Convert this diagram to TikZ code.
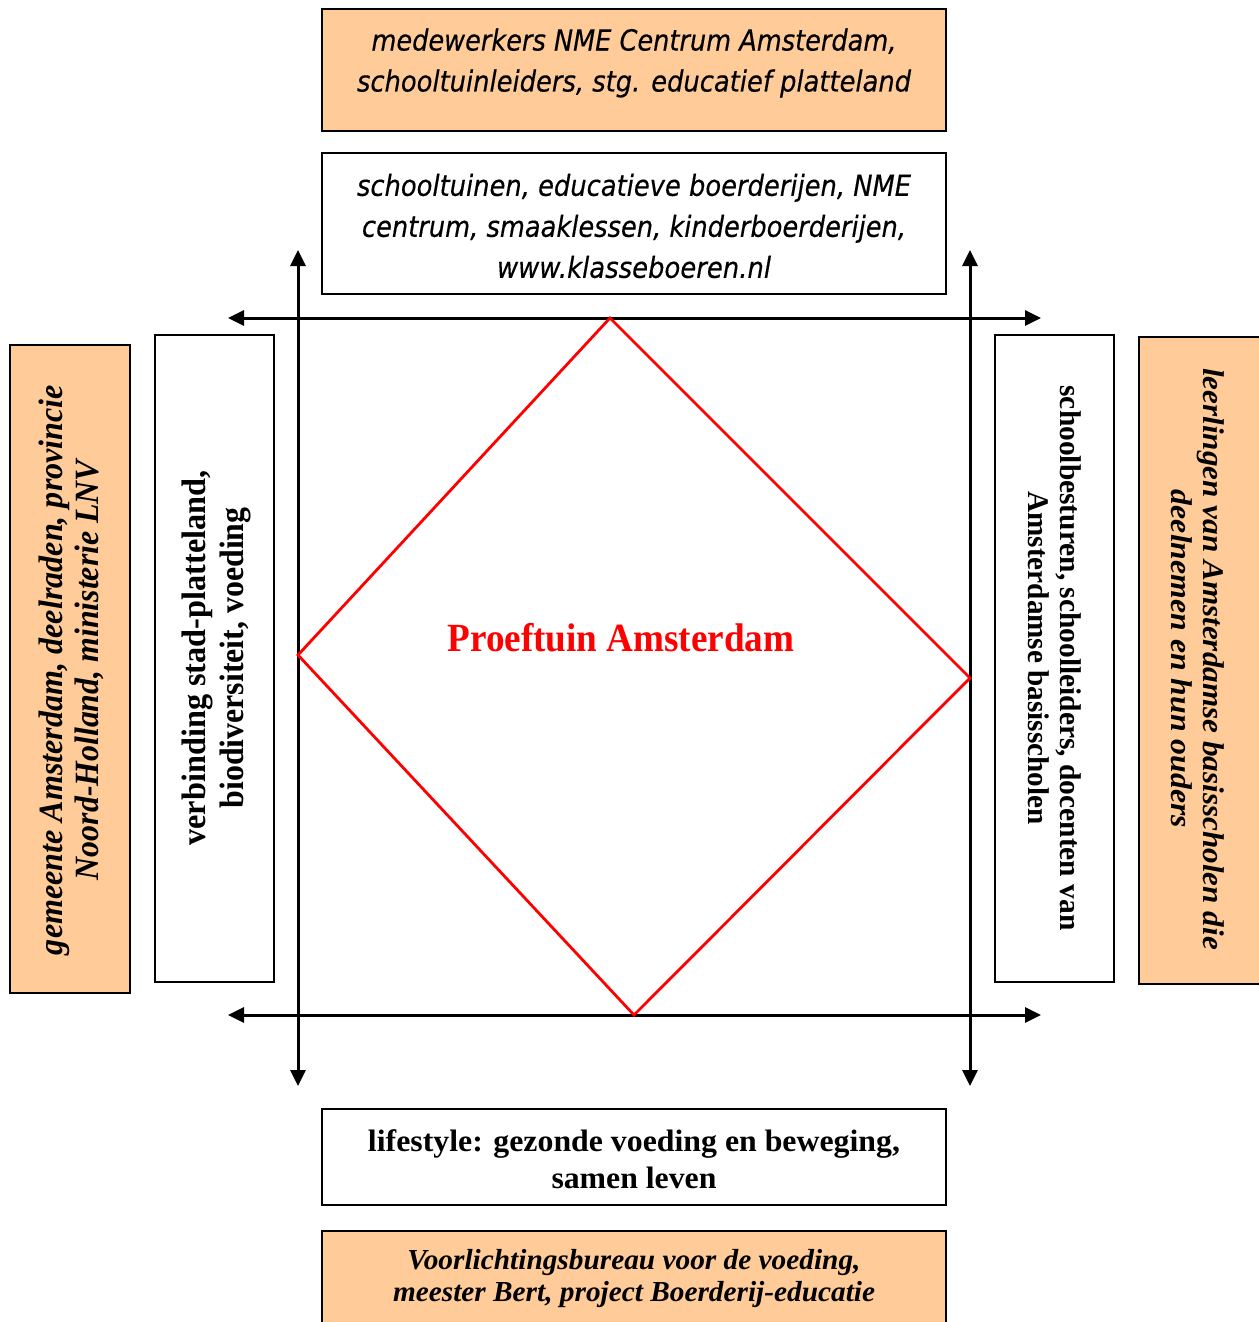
\documentclass[tikz,border=0pt]{standalone}
\usepackage{fontspec}
\setmainfont{Liberation Serif}
\newfontfamily\vsans{DejaVu Sans}[ItalicFeatures={FakeBold=0.4}]
\usetikzlibrary{arrows.meta}
\definecolor{peach}{RGB}{255,204,153}
\newcommand\fl[2]{\resizebox{\dimexpr#1pt/2\relax}{\height}{#2}}
\begin{document}
\begin{tikzpicture}[x=0.5pt,y=-0.5pt,
  obox/.style={draw=black,line width=1pt,fill=peach,inner sep=0pt,outer sep=0pt},
  wbox/.style={draw=black,line width=1pt,fill=white,inner sep=0pt,outer sep=0pt},
  txt/.style={align=center,inner sep=0pt},
  arr/.style={line width=1.5pt,{Triangle[length=8pt,width=7.5pt]}-{Triangle[length=8pt,width=7.5pt]}},
  dia/.style={draw=red,line width=1.4pt,line join=miter}]
\useasboundingbox (0,0) rectangle (1258,1322);
% boxes
\node[obox,minimum width=312pt,minimum height=61pt] (tob) at (634,70) {};
\node[wbox,minimum width=312pt,minimum height=70.5pt] (twb) at (634,223.5) {};
\node[wbox,minimum width=312pt,minimum height=48pt] (bwb) at (634,1157) {};
\node[obox,minimum width=312pt,minimum height=50pt] (bob) at (634,1281) {};
\node[obox,minimum width=60pt,minimum height=324pt] (lob) at (70,669) {};
\node[wbox,minimum width=59.5pt,minimum height=323.5pt] (lwb) at (214.5,658.5) {};
\node[wbox,minimum width=59.5pt,minimum height=323.5pt] (rwb) at (1054.5,658.5) {};
\node[obox,minimum width=63pt,minimum height=323.5pt] (rob) at (1202,660.5) {};
% texts
\node[txt,font=\vsans\itshape\fontsize{14.5}{20.5}\selectfont] (ttxt) at (634,63)
  {\fl{525}{medewerkers NME Centrum Amsterdam,}\\\fl{554}{schooltuinleiders, stg. educatief platteland}};
\node[txt,font=\vsans\itshape\fontsize{14.5}{20.5}\selectfont] (t2txt) at (634,226)
  {\fl{554}{schooltuinen, educatieve boerderijen, NME}\\\fl{544}{centrum, smaaklessen, kinderboerderijen,}\\\fl{274}{www.klasseboeren.nl}};
\node[txt,font=\bfseries\fontsize{15.5}{18.5}\selectfont] (btxt) at (634,1159)
  {\fl{532}{lifestyle: gezonde voeding en beweging,}\\\fl{165}{samen leven}};
\node[txt,font=\bfseries\itshape\fontsize{14.5}{16}\selectfont] (b2txt) at (634,1279)
  {\fl{453}{Voorlichtingsbureau voor de voeding,}\\\fl{482}{meester Bert, project Boerderij-educatie}};
\node[txt,rotate=90,font=\bfseries\itshape\fontsize{17}{18}\selectfont] (ltxt) at (71,670)
  {\fl{570}{gemeente Amsterdam, deelraden, provincie}\\\fl{420}{Noord-Holland, ministerie LNV}};
\node[txt,rotate=90,font=\bfseries\fontsize{17}{19}\selectfont] (l2txt) at (216,658)
  {\fl{375}{verbinding stad-platteland,}\\\fl{301}{biodiversiteit, voeding}};
\node[txt,rotate=-90,font=\bfseries\fontsize{15}{16}\selectfont] (rtxt) at (1055,658)
  {\fl{545}{schoolbesturen, schoolleiders, docenten van}\\\fl{333}{Amsterdamse basisscholen}};
\node[txt,rotate=-90,font=\bfseries\itshape\fontsize{15}{16}\selectfont] (r2txt) at (1198,659)
  {\fl{582}{leerlingen van Amsterdamse basisscholen die}\\\fl{338}{deelnemen en hun ouders}};
% arrows
\coordinate (vlT) at (298,250); \coordinate (vlB) at (298,1086);
\coordinate (vrT) at (970,250); \coordinate (vrB) at (970,1086);
\coordinate (htL) at (228,318); \coordinate (htR) at (1041,318);
\coordinate (hbL) at (228,1015); \coordinate (hbR) at (1041,1015);
\draw[arr] (vlT) -- (vlB);
\draw[arr] (vrT) -- (vrB);
\draw[arr] (htL) -- (htR);
\draw[arr] (hbL) -- (hbR);
% diamond
\coordinate (dT) at (610,318); \coordinate (dR) at (970,678);
\coordinate (dB) at (634,1015); \coordinate (dL) at (298,655);
\draw[dia] (dT) -- (dR) -- (dB) -- (dL) -- cycle;
\node[txt,text=red,font=\bfseries\fontsize{20}{24}\selectfont] (title) at (621,638)
  {\fl{347}{Proeftuin Amsterdam}};
\end{tikzpicture}
\end{document}
